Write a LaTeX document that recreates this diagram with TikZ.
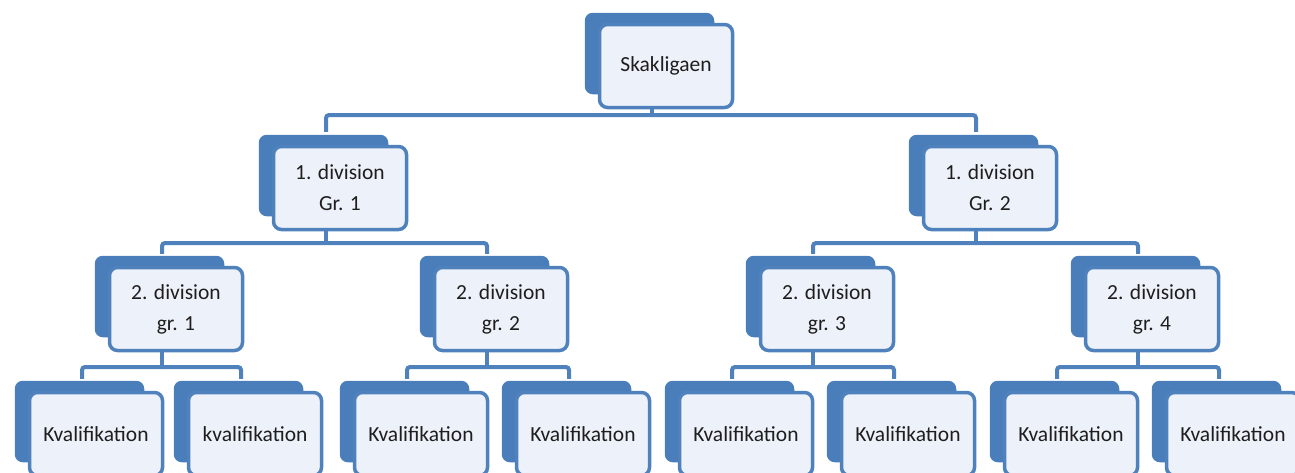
\documentclass[tikz,border=0pt]{standalone}
\usepackage{fontspec}
\setmainfont{Carlito}
\usetikzlibrary{backgrounds,calc}
\definecolor{bblue}{HTML}{4A7EBB}
\definecolor{lblue}{HTML}{4F81BD}
\definecolor{ffill}{HTML}{EDF1F9}
\definecolor{txt}{HTML}{1E1E1E}
\tikzset{
  front/.style={draw=lblue, line width=3.5pt, fill=ffill, rounded corners=8pt,
     minimum width=133pt, minimum height=83pt, inner sep=0pt, align=center,
     text=txt, font=\fontsize{21.5}{31}\selectfont},
  backbox/.style={fill=bblue, rounded corners=8pt},
  conn/.style={draw=lblue, line width=4pt},
  connr/.style={conn, rounded corners=3pt},
}
\newcommand{\backof}[1]{\fill[backbox] ([xshift=-13pt,yshift=10pt]#1.north west) rectangle ([xshift=-20pt,yshift=15pt]#1.south east);}
\begin{document}
\begin{tikzpicture}[x=1pt,y=-1pt]
\useasboundingbox (0,0) rectangle (1295,472);
% root
\node[front] (r) at (666,66) {Skakligaen};
% level 1
\node[front] (a1) at (340,188) {1. division\\Gr. 1};
\node[front] (a2) at (990,188) {1. division\\Gr. 2};
% level 2
\node[front] (b1) at (176,309) {2. division\\gr. 1};
\node[front] (b2) at (501,309) {2. division\\gr. 2};
\node[front] (b3) at (827,309) {2. division\\gr. 3};
\node[front] (b4) at (1152,309) {2. division\\gr. 4};
% level 3
\node[front] (c1) at (96,434) {Kvalifikation};
\node[front] (c2) at (255,434) {kvalifikation};
\node[front] (c3) at (421,434) {Kvalifikation};
\node[front] (c4) at (583,434) {Kvalifikation};
\node[front] (c5) at (746,434) {Kvalifikation};
\node[front] (c6) at (908,434) {Kvalifikation};
\node[front] (c7) at (1071,434) {Kvalifikation};
\node[front] (c8) at (1233,434) {Kvalifikation};
\begin{pgfonlayer}{background}
\foreach \n in {r,a1,a2,b1,b2,b3,b4,c1,c2,c3,c4,c5,c6,c7,c8} {\backof{\n}}
\coordinate (y0) at (0,115);
\coordinate (y1) at (0,243);
\coordinate (y2) at (0,367);
% root connectors
\draw[conn] ([xshift=-14pt]r.south) -- ([xshift=-14pt]r.south |- y0) coordinate (j0);
\foreach \c in {a1,a2} {\draw[connr] (j0) -| ([xshift=-14pt,yshift=13pt]\c.north);}
% level 1
\draw[conn] ([xshift=-14pt]a1.south) -- ([xshift=-14pt]a1.south |- y1) coordinate (j1);
\foreach \c in {b1,b2} {\draw[connr] (j1) -| ([xshift=-14pt,yshift=12pt]\c.north);}
\draw[conn] ([xshift=-14pt]a2.south) -- ([xshift=-14pt]a2.south |- y1) coordinate (j2);
\foreach \c in {b3,b4} {\draw[connr] (j2) -| ([xshift=-14pt,yshift=12pt]\c.north);}
% level 2
\draw[conn] ([xshift=-14pt]b1.south) -- ([xshift=-14pt]b1.south |- y2) coordinate (k1);
\foreach \c in {c1,c2} {\draw[connr] (k1) -| ([xshift=-14pt,yshift=12pt]\c.north);}
\draw[conn] ([xshift=-14pt]b2.south) -- ([xshift=-14pt]b2.south |- y2) coordinate (k2);
\foreach \c in {c3,c4} {\draw[connr] (k2) -| ([xshift=-14pt,yshift=12pt]\c.north);}
\draw[conn] ([xshift=-14pt]b3.south) -- ([xshift=-14pt]b3.south |- y2) coordinate (k3);
\foreach \c in {c5,c6} {\draw[connr] (k3) -| ([xshift=-14pt,yshift=12pt]\c.north);}
\draw[conn] ([xshift=-14pt]b4.south) -- ([xshift=-14pt]b4.south |- y2) coordinate (k4);
\foreach \c in {c7,c8} {\draw[connr] (k4) -| ([xshift=-14pt,yshift=12pt]\c.north);}
\end{pgfonlayer}
\end{tikzpicture}
\end{document}
